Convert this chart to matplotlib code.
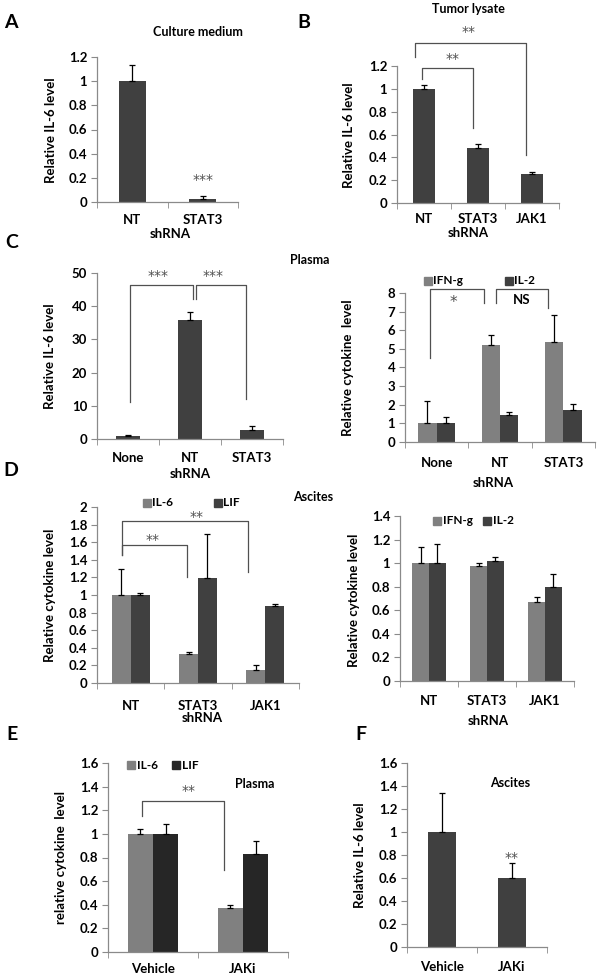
import matplotlib
matplotlib.use("Agg")
import matplotlib.pyplot as plt
import numpy as np

plt.rcParams['font.family'] = ['Lato', 'DejaVu Sans']
plt.rcParams['font.weight'] = 'bold'

# ---- data ----
a_cats = ['NT', 'STAT3']
a_vals = [1.0, 0.025]
a_err = [0.13, 0.025]

b_cats = ['NT', 'STAT3', 'JAK1']
b_vals = [1.0, 0.48, 0.25]
b_err = [0.03, 0.04, 0.02]

c1_cats = ['None', 'NT', 'STAT3']
c1_vals = [0.9, 35.8, 2.7]
c1_err = [0.3, 2.4, 1.3]

c2_cats = ['None', 'NT', 'STAT3']
c2_ifn = [1.0, 5.2, 5.35]
c2_ifn_err = [1.2, 0.55, 1.45]
c2_il2 = [1.0, 1.45, 1.7]
c2_il2_err = [0.35, 0.17, 0.32]

d1_cats = ['NT', 'STAT3', 'JAK1']
d1_il6 = [1.0, 0.33, 0.15]
d1_il6_err = [0.3, 0.02, 0.05]
d1_lif = [1.0, 1.19, 0.88]
d1_lif_err = [0.02, 0.5, 0.02]

d2_cats = ['NT', 'STAT3', 'JAK1']
d2_ifn = [1.0, 0.98, 0.67]
d2_ifn_err = [0.14, 0.02, 0.04]
d2_il2 = [1.0, 1.02, 0.8]
d2_il2_err = [0.16, 0.03, 0.11]

e_cats = ['Vehicle', 'JAKi']
e_il6 = [1.0, 0.37]
e_il6_err = [0.04, 0.03]
e_lif = [1.0, 0.83]
e_lif_err = [0.08, 0.11]

f_cats = ['Vehicle', 'JAKi']
f_vals = [1.0, 0.6]
f_err = [0.34, 0.13]

# ---- style ----
W, H = 600, 977
DARK = '#404040'
LIGHT = '#808080'
AXC = '#8a8a8a'
STAR = '#505050'
TICK_FS = 9.5
LAB_FS = 9.5
TITLE_FS = 9
LETTER_FS = 14
LEG_FS = 8.5
ERR_KW = dict(ecolor='black', elinewidth=0.9, capsize=2.3, capthick=0.9)

fig = plt.figure(figsize=(W / 100, H / 100), dpi=100)


def make_axes(x0, x1, ytop, ybot):
    # pixel box -> figure fraction
    return fig.add_axes([x0 / W, 1 - ybot / H, (x1 - x0) / W, (ybot - ytop) / H])


def ftext(x, y, s, **kw):
    kw.setdefault('ha', 'center')
    kw.setdefault('va', 'center')
    fig.text(x / W, 1 - y / H, s, **kw)


def style(ax, cats, ymax, ystep, pad=9):
    n = len(cats)
    ax.set_xlim(-0.5, n - 0.5)
    ax.set_ylim(0, ymax)
    ticks = np.arange(0, ymax + ystep / 2, ystep)
    ax.set_yticks(ticks, [f"{round(t, 2):g}" for t in ticks])
    ax.set_xticks(range(n), cats)
    ax.set_xticks(np.arange(-0.5, n), minor=True)
    ax.tick_params(axis='x', which='major', length=0, pad=pad, labelsize=TICK_FS)
    ax.tick_params(axis='x', which='minor', length=4, color=AXC, direction='out')
    ax.tick_params(axis='y', length=4, color=AXC, pad=3, labelsize=TICK_FS)
    for s in ['top', 'right']:
        ax.spines[s].set_visible(False)
    for s in ['left', 'bottom']:
        ax.spines[s].set_color(AXC)
        ax.spines[s].set_linewidth(0.9)


def single(ax, vals, err, width):
    x = np.arange(len(vals))
    ax.bar(x, vals, width, color=DARK, yerr=[np.zeros(len(vals)), err],
           error_kw=ERR_KW, zorder=2)


def pair(ax, v1, e1, v2, e2, width, c1=LIGHT, c2=DARK):
    x = np.arange(len(v1))
    ax.bar(x - width / 2, v1, width, color=c1, yerr=[np.zeros(len(v1)), e1],
           error_kw=ERR_KW, zorder=2)
    ax.bar(x + width / 2, v2, width, color=c2, yerr=[np.zeros(len(v2)), e2],
           error_kw=ERR_KW, zorder=2)


def bracket(ax, xl, xr, y, yl, yr):
    ax.plot([xl, xl, xr, xr], [yl, y, y, yr], color='#505050', lw=0.9,
            clip_on=False, zorder=3)


def stars(ax, x, y, s, fs=10):
    ax.text(x, y, s, ha='center', va='center', fontsize=fs, color=STAR,
            family='DejaVu Sans', fontweight='normal', clip_on=False)


def legend_item(ax, x, y, color, label):
    ax.plot([x], [y], marker='s', ms=5.5, color=color, ls='none', clip_on=False)
    ax.annotate(label, (x, y), xytext=(4, 0), textcoords='offset points',
                ha='left', va='center', fontsize=LEG_FS, annotation_clip=False)


# ---- A ----
ax = make_axes(97, 238, 57, 202)
style(ax, a_cats, 1.2, 0.2)
single(ax, a_vals, a_err, 0.38)
stars(ax, 1, 0.18, '***')
ftext(11, 23, 'A', fontsize=LETTER_FS)
ftext(198, 32, 'Culture medium', fontsize=TITLE_FS)
ftext(51, 130, 'Relative IL-6 level', rotation=90, fontsize=LAB_FS)
ftext(170, 234, 'shRNA', fontsize=LAB_FS)

# ---- B ----
ax = make_axes(397, 559, 66, 203)
style(ax, b_cats, 1.2, 0.2, pad=7)
single(ax, b_vals, b_err, 0.4)
bracket(ax, -0.17, 1.89, 1.40, 1.28, 0.42)
bracket(ax, -0.04, 0.91, 1.18, 1.09, 0.66)
stars(ax, 0.83, 1.50, '**')
stars(ax, 0.52, 1.26, '**')
ftext(304, 23, 'B', fontsize=LETTER_FS)
ftext(468, 9, 'Tumor lysate', fontsize=TITLE_FS)
ftext(349, 135, 'Relative IL-6 level', rotation=90, fontsize=LAB_FS)
ftext(468, 233, 'shRNA', fontsize=LAB_FS)

# ---- C left ----
ax = make_axes(97, 283, 273, 439)
style(ax, c1_cats, 50, 10)
single(ax, c1_vals, c1_err, 0.39)
bracket(ax, 0.03, 1.05, 46.4, 11.1, 42.2)
bracket(ax, 1.10, 1.90, 46.4, 42.2, 12.0)
stars(ax, 0.48, 49.0, '***')
stars(ax, 1.37, 49.0, '***')
ftext(12, 243, 'C', fontsize=LETTER_FS)
ftext(50, 356, 'Relative IL-6 level', rotation=90, fontsize=LAB_FS)
ftext(190, 474, 'shRNA', fontsize=LAB_FS)
ftext(310, 260, 'Plasma', fontsize=TITLE_FS)

# ---- C right ----
ax = make_axes(405, 595, 293, 442)
style(ax, c2_cats, 8, 1, pad=11)
pair(ax, c2_ifn, c2_ifn_err, c2_il2, c2_il2_err, 0.29)
bracket(ax, -0.10, 0.75, 8.2, 4.5, 7.45)
bracket(ax, 0.94, 1.76, 8.2, 7.45, 7.2)
stars(ax, 0.27, 7.5, '*', fs=11)
ax.text(1.35, 7.6, 'NS', ha='center', va='center', fontsize=9.5, clip_on=False)
legend_item(ax, -0.14, 8.67, LIGHT, 'IFN-g')
legend_item(ax, 1.14, 8.67, DARK, 'IL-2')
ftext(348, 368, 'Relative cytokine  level', rotation=90, fontsize=LAB_FS)
ftext(493, 483, 'shRNA', fontsize=LAB_FS)

# ---- D left ----
ax = make_axes(97, 299, 507, 683)
style(ax, d1_cats, 2, 0.2, pad=12)
pair(ax, d1_il6, d1_il6_err, d1_lif, d1_lif_err, 0.28)
bracket(ax, -0.13, 1.74, 1.84, 1.45, 1.26)
bracket(ax, -0.13, 0.83, 1.57, 1.45, 1.20)
stars(ax, 0.98, 1.89, '**')
stars(ax, 0.33, 1.62, '**')
legend_item(ax, 0.24, 2.05, LIGHT, 'IL-6')
legend_item(ax, 1.29, 2.05, DARK, 'LIF')
ftext(11, 470, 'D', fontsize=LETTER_FS)
ftext(313, 497, 'Ascites', fontsize=TITLE_FS)
ftext(50, 595, 'Relative cytokine level', rotation=90, fontsize=LAB_FS)
ftext(202, 718, 'shRNA', fontsize=LAB_FS)

# ---- D right ----
ax = make_axes(400, 574, 516, 681)
style(ax, d2_cats, 1.4, 0.2, pad=10)
pair(ax, d2_ifn, d2_ifn_err, d2_il2, d2_il2_err, 0.29)
legend_item(ax, 0.14, 1.36, LIGHT, 'IFN-g')
legend_item(ax, 1.0, 1.36, DARK, 'IL-2')
ftext(354, 600, 'Relative cytokine level', rotation=90, fontsize=LAB_FS)
ftext(488, 721, 'shRNA', fontsize=LAB_FS)

# ---- E ----
ax = make_axes(108, 288, 763, 952)
style(ax, e_cats, 1.6, 0.2, pad=8)
pair(ax, e_il6, e_il6_err, e_lif, e_lif_err, 0.28, c2='#262626')
bracket(ax, -0.12, 0.79, 1.28, 1.15, 0.69)
stars(ax, 0.39, 1.36, '**')
legend_item(ax, -0.24, 1.58, LIGHT, 'IL-6')
legend_item(ax, 0.26, 1.58, '#262626', 'LIF')
ax.text(1.13, 1.42, 'Plasma', ha='center', va='center', fontsize=TITLE_FS)
ftext(12, 734, 'E', fontsize=LETTER_FS)
ftext(61, 858, 'relative cytokine  level', rotation=90, fontsize=LAB_FS)

# ---- F ----
ax = make_axes(407, 547, 763, 947)
style(ax, f_cats, 1.6, 0.2, pad=10)
single(ax, f_vals, f_err, 0.39)
stars(ax, 1.0, 0.77, '**')
ax.text(0.97, 1.43, 'Ascites', ha='center', va='center', fontsize=TITLE_FS)
ftext(361, 734, 'F', fontsize=LETTER_FS)
ftext(360, 855, 'Relative IL-6 level', rotation=90, fontsize=LAB_FS)

fig.savefig('out.png', dpi=100)
